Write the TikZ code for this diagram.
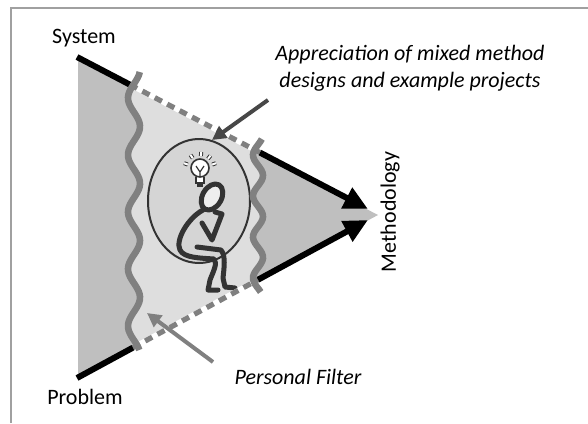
\documentclass[tikz,border=0pt]{standalone}
\usepackage{fontspec}
\setmainfont{Carlito}
\usetikzlibrary{arrows.meta,calc}

\definecolor{framegray}{HTML}{A0A0A0}
\definecolor{conedark}{HTML}{BFBFBF}
\definecolor{conelight}{HTML}{DEDEDE}
\definecolor{filtergray}{HTML}{808080}
\definecolor{ink}{HTML}{333333}

\tikzset{
  blackedge/.style={line width=3pt, black},
  bigtip/.style={-{Triangle[length=12pt,width=11pt]}},
  filterline/.style={filtergray, line width=3.3pt},
  dashedge/.style={filtergray, line width=2.6pt, dash pattern=on 4pt off 3pt},
  thinker/.style={ink, line width=2.5pt, line cap=round, line join=round},
  pointer/.style={line width=2pt, -{Triangle[length=7pt,width=7pt]}},
  txt/.style={font=\fontsize{11}{13.5}\selectfont, inner sep=0pt},
}

\begin{document}
\begin{tikzpicture}[x=0.5pt,y=-0.5pt]
    \useasboundingbox (0,0) rectangle (588,423);
    \draw[framegray, line width=1pt] (11,423) -- (11,8) -- (588,8);

    \coordinate (sysA) at (77,57);
    \coordinate (sysT) at (368,209);
    \coordinate (probA) at (77,378);
    \coordinate (probT) at (368,220);

    % the cone and the filter band
    \fill[conedark] (78,59) -- (378,215) -- (78,376) -- cycle;
    \begin{scope}
        \clip (78,59) -- (378,215) -- (78,376) -- cycle;
        \fill[conelight] plot[domain=50:390, samples=120] ({134-6*cos(360/57*(\x-98))}, \x)
            -- plot[domain=390:50, samples=120] ({258-5*cos(360/41*(\x-155))}, \x) -- cycle;
    \end{scope}

    % thinker in his bubble
    \draw[ink, line width=1pt, fill=conelight!96!black] (199,201) ellipse [x radius=51, y radius=62];
    \foreach \a in {-160,-124,-86,-52,-20}
        \draw[ink, line width=0.5pt, double=white, double distance=1pt]
            ($(200,169)+(\a:13)$) -- ($(200,169)+(\a:17)$);
    \draw[ink, line width=0.8pt, fill=white] (196,177) -- (196,183) -- (204,183) -- (204,177);
    \draw[ink, line width=0.8pt, fill=white] (200,168) circle [radius=9];
    \draw[ink, line width=0.6pt] (196,166) -- (200,172) -- (204,166) (200,172) -- (200,177);
    \fill[ink] (197,183) rectangle (203,187);
    \draw[thinker, fill=conelight!50!white, rotate around={-30:(212,197)}] (212,197) ellipse [x radius=9.5, y radius=14];
    \draw[thinker] (203,210) .. controls (188,218) and (175,240) .. (180,250)
        .. controls (184,258) and (200,258) .. (214,259)
        .. controls (218,263) and (213,272) .. (210,280) -- (208,290) -- (218,290);
    \draw[thinker] (197,247) -- (221,250) .. controls (226,256) and (224,268) .. (223,278)
        -- (225,287) -- (235,288);
    \draw[thinker] (202,223) -- (212,240) -- (222,214) -- (215,212);

    % system and problem edges
    \draw[white, line width=2.6pt] ($(sysA)!0.182!(sysT)$) -- ($(sysA)!0.629!(sysT)$);
    \draw[dashedge] ($(sysA)!0.182!(sysT)$) -- ($(sysA)!0.629!(sysT)$);
    \draw[white, line width=2.6pt] ($(probA)!0.192!(probT)$) -- ($(probA)!0.622!(probT)$);
    \draw[dashedge] ($(probA)!0.192!(probT)$) -- ($(probA)!0.622!(probT)$);
    \draw[blackedge] (sysA) -- ($(sysA)!0.182!(sysT)$);
    \draw[blackedge, bigtip] ($(sysA)!0.629!(sysT)$) -- (sysT);
    \draw[blackedge] (probA) -- ($(probA)!0.192!(probT)$);
    \draw[blackedge, bigtip] ($(probA)!0.622!(probT)$) -- (probT);

    % wavy filter lines
    \draw[filterline] plot[domain=72:350, samples=100] ({134-6*cos(360/57*(\x-98))}, \x);
    \draw[filterline] plot[domain=139:292, samples=60] ({258-5*cos(360/41*(\x-155))}, \x);

    \node[txt] (system) at (84,38) {System};
    \node[txt] (problem) at (85,397) {Problem};
    \node[txt, rotate=90] (method) at (390,212) {Methodology};
    \node[txt, font=\fontsize{11}{13.5}\selectfont\itshape, align=center] (apprec) at (410,68)
        {Appreciation of mixed method\\designs and example projects};
    \node[txt, font=\fontsize{11}{13.5}\selectfont\itshape] (filter) at (298,377) {Personal Filter};

    \coordinate (ideaTail) at (268,100);
    \coordinate (ideaTip) at (212,140);
    \coordinate (filterTail) at (213,362);
    \coordinate (filterTip) at (147,313);
    \draw[pointer, ink!90!white] (ideaTail) -- (ideaTip);
    \draw[pointer, filtergray] (filterTail) -- (filterTip);
\end{tikzpicture}
\end{document}
